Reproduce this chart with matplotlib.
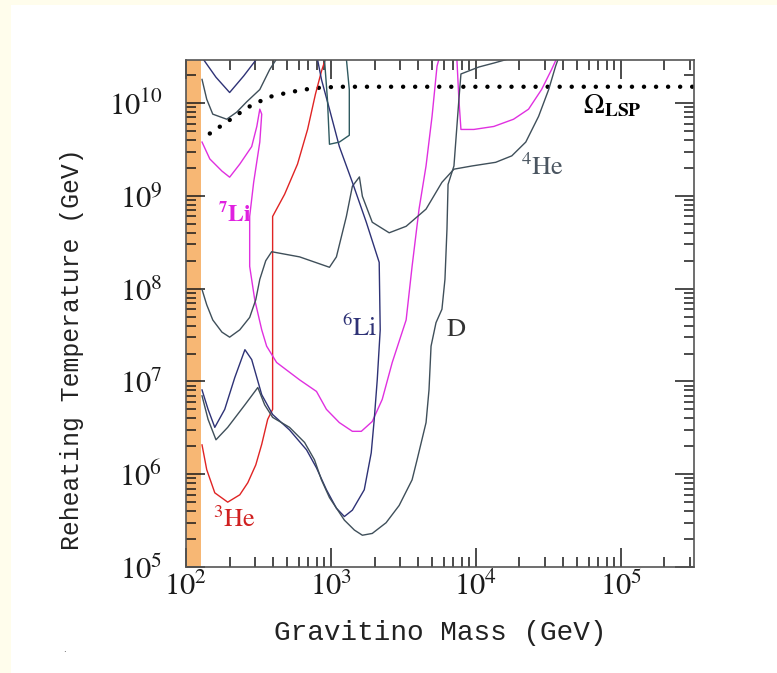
import numpy as np
import matplotlib.pyplot as plt
from matplotlib.patches import Rectangle

plt.rcParams['mathtext.fontset'] = 'stix'
plt.rcParams['font.family'] = ['DejaVu Serif']

# Omega_LSP dotted line
omega_m = [146, 198, 267, 371, 518, 758, 1140, 3.2e5]
omega_T = [4.7e9, 6.5e9, 9.0e9, 1.16e10, 1.31e10, 1.45e10, 1.5e10, 1.5e10]

# 3He (red)
he3_m = [129, 139, 158, 194, 235, 267, 303, 333, 366, 396, 396, 479, 588, 690, 782, 860, 917]
he3_T = [2.07e6, 1.12e6, 6.3e5, 5.0e5, 6.0e5, 8.1e5, 1.26e6, 2.1e6, 3.9e6, 5.0e6,
         6.0e8, 1.04e9, 2.2e9, 5.2e9, 1.25e10, 2.2e10, 3e10]

# 7Li (magenta), two pieces
li7a_m = [129, 146, 177, 200, 235, 284, 308, 323, 333, 323, 293, 275, 275, 298, 333, 360,
          422, 608, 795, 931, 1143, 1406, 1621, 1928, 2259, 2648, 3303, 3631, 4055, 4531,
          4986, 5395, 5570]
li7a_T = [3.8e9, 2.5e9, 1.85e9, 1.59e9, 2.2e9, 3.4e9, 5.6e9, 8.6e9, 7.6e9, 3.8e9, 1.4e9,
          6.0e8, 1.74e8, 7.6e7, 3.6e7, 2.4e7, 1.6e7, 1.04e7, 7.8e6, 5.0e6, 3.6e6, 2.9e6,
          2.9e6, 3.7e6, 6.4e6, 1.6e7, 4.6e7, 1.74e8, 7.2e8, 2.1e9, 7.2e9, 2.5e10, 3e10]
li7b_m = [7396, 7636, 7890, 9690, 1.33e4, 1.82e4, 2.31e4, 2.84e4, 3.33e4, 3.6e4]
li7b_T = [3e10, 1.1e10, 5.2e9, 5.2e9, 5.6e9, 6.7e9, 8.6e9, 1.4e10, 2.3e10, 3e10]

# 4He (dark grey)
he4_m = [129, 139, 153, 177, 200, 235, 275, 303, 323, 355, 390, 608, 977, 1091, 1278, 1406,
         1572, 1648, 1928, 2523, 3303, 4532, 5834, 7060, 9390, 1.37e4, 1.77e4, 2.21e4,
         2.71e4, 3.18e4, 3.55e4, 3.7e4]
he4_T = [9.8e7, 6.7e7, 4.6e7, 3.4e7, 3.0e7, 3.6e7, 4.9e7, 7.6e7, 1.26e8, 2.0e8, 2.5e8,
         2.2e8, 1.7e8, 2.2e8, 6.0e8, 1.27e9, 1.6e9, 9.9e8, 5.2e8, 4.0e8, 4.7e8, 7.2e8,
         1.4e9, 1.94e9, 2.1e9, 2.3e9, 2.7e9, 3.8e9, 7.2e9, 1.4e10, 2.5e10, 3e10]

# 6Li (navy)
li6_m = [129, 142, 158, 185, 217, 255, 284, 333, 396, 518, 679, 795, 931, 1091, 1238, 1406,
         1698, 1897, 1990, 2088, 2188, 2153, 1754, 1406, 1143, 977, 860, 807]
li6_T = [8.1e6, 5.0e6, 3.2e6, 5.0e6, 1.1e7, 2.2e7, 1.72e7, 7.2e6, 4.4e6, 3.0e6, 1.83e6,
         1.17e6, 6.8e5, 4.3e5, 3.5e5, 4.1e5, 6.8e5, 1.7e6, 3.9e6, 1.05e7, 3.6e7, 1.92e8,
         5.2e8, 1.4e9, 3.4e9, 8.6e9, 1.8e10, 3e10]

# D (dark grey)
d_m = [129, 142, 161, 194, 255, 313, 349, 396, 518, 658, 770, 860, 977, 1238, 1452, 1648,
       1928, 2402, 2955, 3631, 3930, 4532, 4750, 4907, 5309, 5834, 6120, 6320, 6430, 7060,
       7640, 7890, 1.05e4, 1.33e4, 1.69e4]
d_T = [7.0e6, 3.9e6, 2.35e6, 3.2e6, 5.6e6, 8.6e6, 5.6e6, 4.1e6, 3.2e6, 2.2e6, 1.43e6,
       8.7e5, 5.6e5, 3.2e5, 2.5e5, 2.2e5, 2.3e5, 3.0e5, 4.6e5, 8.7e5, 1.43e6, 3.6e6, 8.1e6,
       2.4e7, 4.3e7, 6.0e7, 1.26e8, 4.4e8, 1.33e9, 2.1e9, 1.1e10, 2.06e10, 2.45e10, 2.7e10,
       3e10]

# small pieces near the top
loop_m = [902, 946, 977, 1143, 1339, 1339, 1278]
loop_T = [3e10, 1.1e10, 3.6e9, 3.8e9, 4.5e9, 1.4e10, 3e10]
vtop_m = [131, 161, 200, 250, 308]
vtop_T = [3e10, 1.9e10, 1.3e10, 1.96e10, 3e10]
top2_m = [129, 139, 153, 191, 224, 262, 323, 378, 422]
top2_T = [1.8e10, 1.1e10, 7.6e9, 6.7e9, 8.0e9, 1.03e10, 1.4e10, 2.3e10, 3e10]

xticks = [1e2, 1e3, 1e4, 1e5]
xlabels = [r'$10^{2}$', r'$10^{3}$', r'$10^{4}$', r'$10^{5}$']
yticks = [1e5, 1e6, 1e7, 1e8, 1e9, 1e10]
ylabels = [r'$10^{5}$', r'$10^{6}$', r'$10^{7}$', r'$10^{8}$', r'$10^{9}$', r'$10^{10}$']

fig = plt.figure(figsize=(7.77, 6.73), dpi=100, facecolor='#fffdec')
fig.patches.append(Rectangle((11/777, 0), 1, 1 - 5/673, transform=fig.transFigure,
                             facecolor='white', edgecolor='none', zorder=-10))
ax = fig.add_axes([186/777, 1 - 567/673, 508/777, 507.5/673])
ax.set_zorder(5)

gray = '#3f4f5a'
navy = '#2e3276'
mag = '#e030e0'
red = '#e02424'

ax.axvspan(100, 127, color='#f7b774', lw=0, zorder=0)
ax.plot(omega_m, omega_T, color='black', lw=3.2, ls=(0, (0.01, 2.7)),
        dash_capstyle='round')
ax.plot(he3_m, he3_T, color=red, lw=1.0)
ax.plot(li7a_m, li7a_T, color=mag, lw=1.0)
ax.plot(li7b_m, li7b_T, color=mag, lw=1.0)
ax.plot(he4_m, he4_T, color=gray, lw=1.0)
ax.plot(li6_m, li6_T, color=navy, lw=1.0)
ax.plot(d_m, d_T, color=gray, lw=1.0)
ax.plot(loop_m, loop_T, color='#2f5a60', lw=1.0)
ax.plot(vtop_m, vtop_T, color=navy, lw=1.0)
ax.plot(top2_m, top2_T, color=gray, lw=1.0)

ax.set_xscale('log')
ax.set_yscale('log')
ax.set_xlim(100, 3.2e5)
ax.set_ylim(1e5, 2.95e10)
ax.set_xticks(xticks)
ax.set_xticklabels(xlabels, fontsize=22)
ax.set_yticks(yticks)
ax.set_yticklabels(ylabels, fontsize=22)
ax.tick_params(which='both', direction='in', top=True, right=True, width=1.1,
               color='#1a1a1a', labelcolor='#1a1a1a')
ax.tick_params(which='major', length=14)
ax.tick_params(which='minor', length=7)
ax.tick_params(axis='x', which='major', pad=3)
ax.tick_params(axis='y', which='major', pad=17)
for s in ax.spines.values():
    s.set_linewidth(1.2)
    s.set_color('#555555')

ax.set_xlabel('Gravitino Mass (GeV)', fontsize=20, color='#222222',
              family='Liberation Mono')
ax.set_ylabel('Reheating Temperature (GeV)', fontsize=17.8, color='#222222',
              family='Liberation Mono')
ax.xaxis.set_label_coords(0.5, -0.105)
ax.yaxis.set_label_coords(-0.2, 0.43)

ax.text(5.5e4, 8e9, r'$\Omega_{\mathbf{LSP}}$', fontsize=20, color='black')
ax.text(2.04e4, 1.67e9, r'$^{4}\mathrm{He}$', fontsize=19, color='#4a5560')
ax.text(166, 5.3e8, r'$^{\mathbf{7}}\mathbf{Li}$', fontsize=17, color='#e020e0')
ax.text(1200, 3.1e7, r'$^{6}\mathrm{Li}$', fontsize=19, color=navy)
ax.text(6220, 3.1e7, r'$\mathrm{D}$', fontsize=19, color='#333333')
ax.text(153, 2.7e5, r'$^{3}\mathrm{He}$', fontsize=19, color='#d02020')

fig.text(63/777, 1 - 652/673, '.', fontsize=6, color='#555555')

fig.savefig('out.png', dpi=100, facecolor=fig.get_facecolor())
